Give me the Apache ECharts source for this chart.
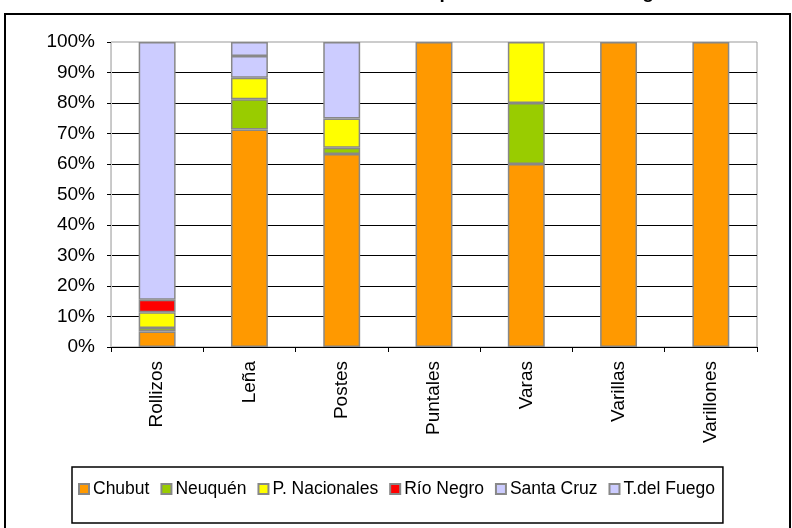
<!DOCTYPE html>
<html lang="es">
<head>
<meta charset="UTF-8">
<title>Productos por región</title>
<script src="https://cdn.jsdelivr.net/npm/echarts@6/dist/echarts.min.js"></script>
<style>
  body { margin: 0; padding: 0; background: #fff; overflow: hidden; }
  #chart { width: 792px; height: 528px; }
</style>
</head>
<body>
<div id="chart"></div>
<script>
// categorias y porcentajes
var productos = ['Rollizos', 'Leña', 'Postes', 'Puntales', 'Varas', 'Varillas', 'Varillones'];
var regiones = ['Chubut', 'Neuquén', 'P. Nacionales', 'Río Negro', 'Santa Cruz', 'T.del Fuego'];
var chubut       = [5.1, 71.3, 63.3, 100, 60, 100, 100];
var neuquen      = [1.1, 9.9, 2.0, 0, 20, 0, 0];
var pNacionales  = [5.2, 7.1, 9.6, 0, 20, 0, 0];
var rioNegro     = [4.1, 0, 0, 0, 0, 0, 0];
var santaCruz    = [84.5, 7.1, 25.1, 0, 0, 0, 0];
var tdelFuego    = [0, 4.6, 0, 0, 0, 0, 0];
var yTicks = ['0%', '10%', '20%', '30%', '40%', '50%', '60%', '70%', '80%', '90%', '100%'];

var colores = ['#ff9900', '#99cc00', '#ffff00', '#ff0000', '#ccccff', '#ccccff'];
var valores = [chubut, neuquen, pNacionales, rioNegro, santaCruz, tdelFuego];

var series = [];
for (var i = 0; i < regiones.length; i++) {
    series.push({
        name: regiones[i],
        type: 'bar',
        stack: 'total',
        barWidth: '40%',
        data: valores[i].map(function (v) { return v || null; }),
        itemStyle: {
            color: colores[i],
            borderColor: '#888888',
            borderWidth: 1.5
        }
    });
}

var chart = echarts.init(document.getElementById('chart'));
chart.setOption({
    animation: false,
    backgroundColor: '#ffffff',
    title: {
        text: 'Destino de la producción de cada región',
        left: 316,
        top: -17,
        padding: 0,
        textStyle: { fontFamily: 'Arial', fontSize: 19, fontWeight: 'bold', color: '#000' }
    },
    graphic: [{
        type: 'rect',
        shape: { x: 5, y: 14, width: 785, height: 530 },
        style: { fill: null, stroke: '#000', lineWidth: 2 },
        silent: true
    }],
    grid: {
        left: 111, right: 35, top: 42, bottom: 181,
        show: true, borderColor: '#999999', borderWidth: 1,
        backgroundColor: '#ffffff'
    },
    legend: {
        left: 72,
        top: 467,
        padding: [13, 8, 25, 6],
        borderColor: '#000',
        borderWidth: 1.5,
        itemWidth: 10,
        itemHeight: 10,
        itemGap: 11,
        icon: 'rect',
        textStyle: { fontFamily: 'Arial', fontSize: 17.5, color: '#000', padding: [0, 0, 0, -1] },
        data: regiones
    },
    xAxis: {
        type: 'category',
        data: productos,
        axisLine: { lineStyle: { color: '#000', width: 1 } },
        axisTick: { show: true, length: 5, lineStyle: { color: '#000' } },
        axisLabel: { rotate: 90, margin: 14, fontFamily: 'Arial', fontSize: 19, color: '#000' }
    },
    yAxis: {
        type: 'value',
        min: 0,
        max: 100,
        interval: 10,
        axisLine: { show: true, lineStyle: { color: '#c8c8c8' } },
        axisTick: { show: true, length: 4, lineStyle: { color: '#000' } },
        axisLabel: {
            margin: 16, fontFamily: 'Arial', fontSize: 19, color: '#000',
            formatter: function (v) { return yTicks[Math.round(v / 10)]; }
        },
        splitLine: { show: true, showMaxLine: false, lineStyle: { color: '#000', width: 1 } }
    },
    series: series
});
</script>
</body>
</html>
